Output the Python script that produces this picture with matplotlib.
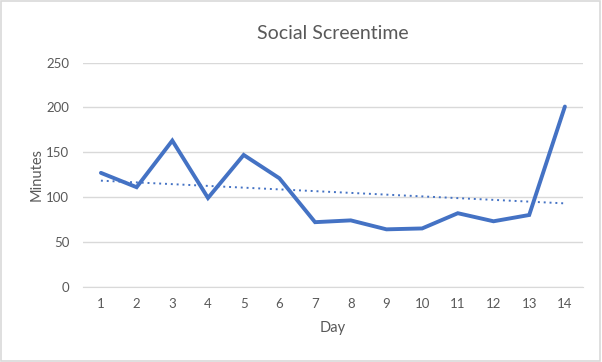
import matplotlib
matplotlib.use("Agg")
import matplotlib.pyplot as plt
import numpy as np
from matplotlib.patches import Rectangle

days = list(range(1, 15))
minutes = [127, 111, 163, 99, 147, 121, 72, 74, 64, 65, 82, 73, 80, 201]
yticks = [0, 50, 100, 150, 200, 250]

plt.rcParams['font.family'] = ['Lato', 'DejaVu Sans']
grey = '#595959'

fig = plt.figure(figsize=(6.02, 3.62), dpi=100)
ax = fig.add_axes([0.138, 0.208, 0.830, 0.619])

ax.plot(days, minutes, color='#4472C4', linewidth=2.8, solid_capstyle='round',
        solid_joinstyle='miter', zorder=3)

# linear trendline like excel
k, b = np.polyfit(days, minutes, 1)
tx = np.array([days[0], days[-1]])
ax.plot(tx, k * tx + b, color='#4472C4', linewidth=1.4, linestyle=(0, (1, 2)), zorder=2)

ax.set_xlim(0.5, 14.5)
ax.set_ylim(0, 250)
ax.set_yticks(yticks)
ax.set_xticks(days)
ax.grid(axis='y', color='#D9D9D9', linewidth=1)
ax.set_axisbelow(True)
for s in ['top', 'right', 'left']:
    ax.spines[s].set_visible(False)
ax.spines['bottom'].set_color('#D9D9D9')
ax.tick_params(length=0, labelsize=9.5, labelcolor=grey, pad=8)
ax.tick_params(axis='y', pad=10)

ax.set_title('Social Screentime', fontsize=14, color=grey, pad=17)
ax.set_xlabel('Day', fontsize=10.5, color=grey, labelpad=8)
ax.set_ylabel('Minutes', fontsize=10.5, color=grey, labelpad=2)

fig.patches.append(Rectangle((0.002, 0.003), 0.995, 0.993, transform=fig.transFigure,
                             fill=False, edgecolor='#D9D9D9', linewidth=1.2))

fig.savefig('out.png', dpi=100)
